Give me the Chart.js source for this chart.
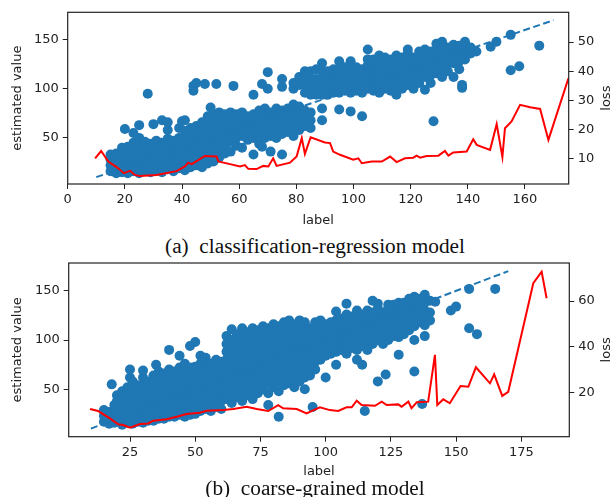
<!DOCTYPE html>
<html><head><meta charset="utf-8">
<script src="https://cdn.jsdelivr.net/npm/chart.js@4"></script>
<style>
html,body{margin:0;padding:0;background:#fff;width:615px;height:497px;overflow:hidden;position:relative}
canvas{position:absolute;left:0}
.cap{position:absolute;left:0;width:630px;text-align:center;font-family:"Liberation Serif","Times New Roman",serif;font-size:21.3px;line-height:24px;color:#111;white-space:pre}
</style></head><body>
<canvas id="c1" width="615" height="232" style="top:0"></canvas>
<div class="cap" style="top:233.6px">(a)  classification-regression model</div>
<canvas id="c2" width="615" height="230" style="top:250px"></canvas>
<div class="cap" style="top:476px">(b)  coarse-grained model</div>
<script>
// ---------- shared ----------
const idealX = [10, 170];
const idealY = [10, 170];

// ---------- (a) classification-regression model ----------
const aLabels = [15,17,19,20,21,23,25,27,28,29,30,31,33,35,37,39,40,41,43,44,45,47,48,49,50,51,52,53,55,57,58,59,61,63,65,67,68,69,70,71,73,75,77,79,81,83,85,87,89,91,93,95,97,99,101,103,105,107,109,111,113,115,117,119,121,123,125,127,128,129,131,133,135,137,138,139,141,143,148,150,155,158,165];
const aEstimates = [
 [16,22,28,33],[14,20,27,34],[15,21,28,35,40],[18,25,32,59],[14,20,27,34,41],
 [16,22,30,38,45,55],[14,20,27,35,43,50,63],[17,24,31,39,46],[95],[15,22,30,37,44],
 [64],[17,25,33,41,47],[15,23,30,38,45,68],[18,26,34,42,49,58,66],[16,24,32,40,47],
 [19,27,35,43,50,60],[67],[17,25,33,41,49,57,68],[20,28,36,44,52,60],[98,103],
 [22,30,38,46,54,62,106],[20,28,36,44,52,60,66],[105],[24,32,40,48,56,64,72],[81],
 [26,34,42,50,58,66,74],[105],[30,38,46,54,62,70,76],[34,42,50,58,66,74],[36,46,54,62,70,76],
 [103],[42,50,58,66,74],[40,52,60,68,76],[48,56,64,72],[33,50,58,66,74,94],
 [44,54,62,70,78],[41,105],[50,58,66,74,80],[100,117],[36,52,60,68,76],
 [50,58,66,74,80],[33,54,62,70,78,102,110],[56,64,72,80],[52,60,68,76,84,100,106],[58,66,74,82,104,112],
 [62,70,78,96,104,112,118],[60,68,76,94,102,110,118],[94,102,110,120],[68,80,94,102,110,118,126],[94,102,110,118],
 [96,104,112,120],[79,96,104,112,120,128],[98,106,114,122],[77,96,104,112,120,128],[98,106,114,122],
 [72,96,104,112,120],[100,108,116,124,130,140],[98,106,114,122,130],[96,104,112,120,128,134],[100,108,116,124,132],
 [98,106,114,122,130],[94,102,110,118,126,134],[100,108,116,124,132],[104,112,120,128,136,140],[100,108,116,124,132],
 [106,114,122,130,138],[99,112,120,128,136,140],[106,114,122,130,138],[67],[116,124,132,140,146],
 [112,120,128,136,144,148],[118,126,134,142],[112,126,134,142,145],[120,128,136,144],[101,104],
 [130,138,146,148],[136,142],[138],[143],[148],[155,119],[123],[144]
];
const aLossX = [9.6,11.7,14.2,17.1,19.7,21.8,23.5,25.3,31.1,38.1,41,42.2,43.4,48,52.1,52.7,56.8,60.3,62,63.2,66.1,68.4,70.2,71.9,73.1,77.8,80.1,81.9,83,85,90,91.8,92.9,95.3,99.9,101.7,102.9,106.4,109.9,112.8,115.1,118,120.9,122.1,123.3,125.6,129.7,132,133.2,134.9,139.6,141.9,143.1,147.8,150.1,152.1,153,155.3,158.3,161.8,165.3,168.2,175.2];
const aLossY = [10.2,12.7,9.1,7.2,5.1,5.9,4.5,4.1,4.5,5.8,7.4,8.7,8.2,11,10.8,9.1,8.2,7.4,7.9,6.6,6.5,7.6,7.4,10.2,7.6,8.7,10.8,17.1,11.7,17.4,15.6,15.4,12.5,11.4,9.7,10.2,8.5,9.1,9.1,10.8,8.9,10.2,10.4,11.1,10.4,11,11.1,12.7,11.1,12.2,12.5,16.7,14.8,13.1,21.9,10.6,20.5,22.8,28.5,27.7,27.1,16.5,37.6];
const aXTicks = [0,20,40,60,80,100,120,140,160];
const aYTicks = [50,100,150];
const aLossTicks = [10,20,30,40,50];

// ---------- (b) coarse-grained model ----------
const bLabels = [15,17,18,19,20,22,24,25,26,28,30,32,34,35,36,38,40,42,44,46,48,50,52,54,56,58,60,62,64,66,68,70,72,74,76,78,80,82,84,86,88,90,92,94,95,96,98,100,102,104,106,108,110,112,114,115,116,118,120,122,123,124,126,128,130,132,134,136,137,138,140,142,148,150,155,158,165];
const bEstimates = [
 [17,23,29],[15,21,27],[55],[16,22,28,34],[18,24,30,38,44],
 [14,20,26,32,40,48],[16,22,28,36,44,52],[62,70],[15,21,28,36,44,52,58],[17,23,30,38,46,54],
 [16,22,30,38,46,54,62,69],[18,26,34,42,50,58],[18,24,32,40,48,56,64],[75],[20,28,36,44,52,60,68],
 [20,26,34,42,50,58,66],[22,30,38,46,54,62,70,90],[22,28,36,44,52,60,68],[24,32,40,48,56,64,72,84],[22,30,38,46,54,62,70,76],
 [24,32,40,48,56,64,72,94],[25,33,41,49,57,65,73,98],[28,36,44,52,60,68,76,84],[30,38,46,54,62,70,78,82],[28,36,44,52,60,68,76],
 [32,40,48,56,64,72,80],[30,38,46,54,62,70,78],[40,48,56,64,72,80,88,96,104],[36,44,52,60,68,76,84,92,100,111],[42,50,58,66,74,82,90,98,106],
 [38,46,54,62,70,78,86,94,102,112],[44,52,60,68,76,84,92,100,108],[40,48,56,64,72,80,88,96,104,112],[46,54,62,70,78,86,94,102,110],[50,58,66,74,82,90,98,106,114],
 [34,46,56,64,72,80,88,96,104,112],[52,60,68,76,84,92,100,108,116],[22,48,58,66,74,82,90,98,106,114],[54,62,70,78,86,94,102,110,118],[56,64,72,80,88,96,104,112,120],
 [52,60,68,76,84,92,100,108,116],[58,66,74,82,90,98,106,114,120],[50,62,70,78,86,94,102,110,118],[64,72,80,88,96,104,112],[32],
 [70,78,86,94,102,110,118],[80,88,96,104,112,120],[62,84,92,100,108,116],[86,94,102,110,118],[75,88,96,104,112,120,129],
 [90,98,106,114,122],[86,94,102,110,118,126,137],[92,100,108,116,124],[80,90,98,106,114,122,130],[75,94,102,110,118,126],
 [28],[90,98,106,114,122,130],[96,104,112,120,128,140],[58,100,108,116,124,132,137],[96,104,112,120,128],
 [65],[100,108,116,124,132,136],[104,112,120,128,136],[85,103,110,118,126,134,138],[106,114,122,130,138],
 [110,118,126,134,142],[68,100,114,122,130,138,144],[118,126,134,142],[35],[104,115,122,130,138,146],
 [120,128,140],[139],[130],[134],[152,112],[106],[152]
];
const bLossX = [9.7,12.8,17.3,20.5,22.4,25,28.8,32,33.9,39,42.9,46.7,51.8,54.4,60.8,64.6,69.7,73.6,78,81.8,83.7,88.9,92.7,97.8,101.6,104.8,108,110,111.9,113.8,118.9,121.5,123.4,127.8,129.1,131.7,132.9,134.9,139.3,141.9,142.8,145.1,147.6,151.7,154.7,157.6,163,164.6,167.7,170,179.6,182.8,184.7];
const bLossY = [12.9,12,8.8,6.2,5.9,4.7,6.3,6.6,7.8,8.4,9.5,10.7,11.3,12.1,12.4,12.9,13.9,12.9,12,14.6,13.2,12.9,11,13.6,12.4,12,13.6,13.6,16.5,14.6,14.3,16.1,14.6,14.9,13.9,16.1,13.2,15.8,16.1,36.5,14.6,17.1,15.4,22.9,22.6,31.1,24.1,28,18.6,20.4,67.8,72.8,61.2];
const bXTicks = [25,50,75,100,125,150,175];
const bYTicks = [50,100,150];
const bLossTicks = [20,40,60];

// ---------- drawing ----------
const TXT = '#222';
const tickFont = {family:'DejaVu Sans', size:13};

const framePlugin = {
  id:'frame',
  afterDraw(chart){
    const {ctx, chartArea:a} = chart;
    ctx.save();
    ctx.strokeStyle = '#222';
    ctx.lineWidth = 1.2;
    ctx.strokeRect(a.left, a.top, a.right - a.left, a.bottom - a.top);
    // right axis title, rotated like matplotlib (reads bottom to top)
    ctx.fillStyle = TXT;
    ctx.font = '13px "DejaVu Sans"';
    ctx.textAlign = 'center';
    ctx.textBaseline = 'middle';
    ctx.translate(chart.options.lossTitleX, (a.top + a.bottom) / 2);
    ctx.rotate(-Math.PI / 2);
    ctx.fillText(chart.options.lossTitle, 0, 0);
    ctx.restore();
  }
};

function axisCommon(ticksList){
  return {
    afterBuildTicks: s => { s.ticks = ticksList.map(v => ({value:v})); },
    grid:{display:true, drawOnChartArea:false, drawTicks:true, tickLength:5, color:'#222', lineWidth:1},
    border:{display:false},
    ticks:{font:tickFont, color:TXT, autoSkip:false, maxRotation:0}
  };
}

function buildChart(id, c){
  const scatterPts = c.labels.flatMap((x,i) => c.estimates[i].map(y => ({x, y})));
  const lossPts = c.lossX.map((x,i) => ({x, y:c.lossY[i]}));
  const idealPts = idealX.map((x,i) => ({x, y:idealY[i]}));
  const xs = axisCommon(c.xTicks), ys = axisCommon(c.yTicks), y2s = axisCommon(c.lossTicks);
  new Chart(document.getElementById(id), {
    type:'scatter',
    data:{datasets:[
      {type:'line', data:lossPts, yAxisID:'y2', borderColor:'#ff0000', borderWidth:2, pointRadius:0, fill:false, tension:0, order:1},
      {type:'line', data:idealPts, yAxisID:'y', borderColor:'#1f77b4', borderWidth:2, borderDash:[7,3.5], pointRadius:0, fill:false, order:2},
      {data:scatterPts, yAxisID:'y', backgroundColor:'#1f77b4', borderWidth:0, pointRadius:5, pointHoverRadius:5, order:3}
    ]},
    options:{
      responsive:false, animation:false, devicePixelRatio:1, events:[],
      lossTitle:'loss', lossTitleX:607,
      layout:{padding:{top:c.padTop, left:0, right:0, bottom:0}},
      plugins:{legend:{display:false}, tooltip:{enabled:false}},
      scales:{
        x:{...xs, type:'linear', position:'bottom', min:c.xMin, max:c.xMax,
           afterFit: s => { s.height = c.xHeight; },
           ticks:{...xs.ticks, padding:3},
           title:{display:true, text:'label', color:TXT, font:{family:'DejaVu Sans', size:13}, padding:{top:0, bottom:c.xTitlePad}}},
        y:{...ys, type:'linear', position:'left', min:c.yMin, max:c.yMax,
           afterFit: s => { s.width = c.leftW; },
           ticks:{...ys.ticks, padding:4},
           title:{display:true, text:'estimated value', color:TXT, font:{family:'DejaVu Sans', size:13}, padding:{top:10, bottom:0}}},
        y2:{...y2s, type:'linear', position:'right', min:c.lossMin, max:c.lossMax,
           afterFit: s => { s.width = c.rightW; },
           ticks:{...y2s.ticks, padding:4}}
      }
    },
    plugins:[framePlugin]
  });
}

buildChart('c1', {
  labels:aLabels, estimates:aEstimates, lossX:aLossX, lossY:aLossY,
  xTicks:aXTicks, yTicks:aYTicks, lossTicks:aLossTicks,
  xMin:0, xMax:175.3, yMin:3, yMax:178, lossMin:1.4, lossMax:60.2,
  padTop:12.3, leftW:67.7, rightW:46.3, xHeight:48, xTitlePad:4
});
buildChart('c2', {
  labels:bLabels, estimates:bEstimates, lossX:bLossX, lossY:bLossY,
  xTicks:bXTicks, yTicks:bYTicks, lossTicks:bLossTicks,
  xMin:1.5, xMax:193.4, yMin:1.8, yMax:178.3, lossMin:0.8, lossMax:76.6,
  padTop:13, leftW:68.7, rightW:45.7, xHeight:43.3, xTitlePad:1
});
</script>
</body></html>
